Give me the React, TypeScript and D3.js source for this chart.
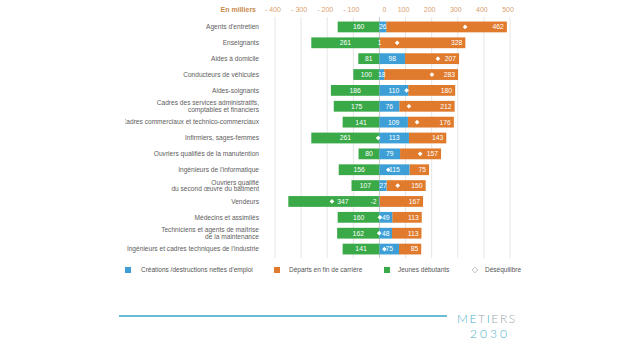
import React from "react";
import * as d3 from "d3";

const categories: string[][] = [
  ["Agents d'entretien"],
  ["Enseignants"],
  ["Aides à domicile"],
  ["Conducteurs de véhicules"],
  ["Aides-soignants"],
  ["Cadres des services administratifs,", "comptables et financiers"],
  ["Cadres commerciaux et technico-commerciaux"],
  ["Infirmiers, sages-femmes"],
  ["Ouvriers qualifiés de la manutention"],
  ["Ingénieurs de l'informatique"],
  ["Ouvriers qualifié", "du second œuvre du bâtiment"],
  ["Vendeurs"],
  ["Médecins et assimilés"],
  ["Techniciens et agents de maîtrise", "de la maintenance"],
  ["Ingénieurs et cadres techniques de l'industrie"],
];
const jeunes = [160, 261, 81, 100, 186, 175, 141, 261, 80, 156, 107, 347, 160, 162, 141];
const creations = [26, 1, 98, 18, 110, 76, 109, 113, 79, 115, 27, -2, 49, 48, 75];
const departs = [462, 328, 207, 283, 180, 212, 176, 143, 157, 75, 150, 167, 113, 113, 85];
const ticks = [-400, -300, -200, -100, 0, 100, 200, 300, 400, 500];
const legendLabels = [
  "Créations /destructions nettes d'emploi",
  "Départs en fin de carrière",
  "Jeunes débutants",
  "Déséquilibre",
];

const GREEN = "#3aa948";
const BLUE = "#3d9fd6";
const ORANGE = "#e07a2c";
const FONT = "Liberation Sans, Arial, sans-serif";

export default function App() {
  const x = d3.scaleLinear().domain([-400, 500]).range([275, 510]);
  const ids = categories.map((_, i) => String(i));
  const y = d3.scaleBand<string>().domain(ids).range([19, 257]).paddingInner(0.32).paddingOuter(0.16);
  const bw = y.bandwidth();
  const diamond = d3.symbol().type(d3.symbolSquare).size(11)() as string;
  const legendDiamond = d3.symbol().type(d3.symbolSquare).size(16)() as string;
  const x0 = x(0);

  const legendX = [128, 277, 387, 475];

  return (
    <svg width={636} height={358} style={{ position: "absolute", left: 0, top: 0, background: "#fff" }} fontFamily={FONT}>
      <defs>
        <clipPath id="lab">
          <rect x={125} y={0} width={200} height={300} />
        </clipPath>
      </defs>
      {/* grid */}
      {ticks.map((t) => (
        <line key={t} x1={x(t)} x2={x(t)} y1={17} y2={258} stroke={t === 0 ? "#c8c8c8" : "#e6e6e6"} strokeWidth={1} />
      ))}
      {/* axis labels */}
      <text x={256} y={11.5} fontSize={7} fontWeight="bold" fill="#c98a4e" textAnchor="end">En milliers</text>
      {ticks.map((t) => (
        <text key={t} x={x(t) + (t === 0 ? 5 : -2)} y={11.5} fontSize={7} fill="#d9a070" textAnchor="middle">
          {t < 0 ? `- ${Math.abs(t)}` : String(t)}
        </text>
      ))}
      {/* category labels */}
      <g clipPath="url(#lab)">
        {categories.map((lines, i) => {
          const cy = (y(ids[i]) as number) + bw / 2;
          const lh = 6.8;
          return lines.map((ln, j) => (
            <text key={i + "-" + j} x={259} y={cy + (j - (lines.length - 1) / 2) * lh + 2.3} fontSize={6.6} fill="#606060" textAnchor="end">
              {ln}
            </text>
          ));
        })}
      </g>
      {/* bars */}
      {categories.map((_, i) => {
        const top = y(ids[i]) as number;
        const cy = top + bw / 2;
        const g = jeunes[i], b = creations[i], o = departs[i];
        const bStart = Math.min(0, b), bEnd = Math.max(0, b);
        const oStart = Math.max(0, b), oEnd = oStart + o;
        const gEnd = Math.min(0, b), gStart = gEnd - g;
        const des = b + o - g;
        const dx = x(des);
        let gLab = (x(gStart) + x(gEnd)) / 2;
        if (Math.abs(dx - gLab) < 10) gLab = dx + 11;
        const bLab = b >= 0 ? (x(bStart) + x(bEnd)) / 2 : x0 - 3;
        return (
          <g key={i}>
            <rect x={x(gStart)} y={top} width={x(gEnd) - x(gStart)} height={bw} fill={GREEN} />
            <rect x={x(oStart)} y={top} width={x(oEnd) - x(oStart)} height={bw} fill={ORANGE} />
            <rect x={x(bStart)} y={top} width={x(bEnd) - x(bStart)} height={bw} fill={BLUE} />
            <text x={gLab} y={cy + 2.4} fontSize={6.8} fill="#fff" textAnchor="middle">{g}</text>
            <text x={bLab} y={cy + 2.4} fontSize={6.8} fill="#fff" textAnchor={b >= 0 ? "middle" : "end"}>{b}</text>
            <text x={x(oEnd) - 3} y={cy + 2.4} fontSize={6.8} fill="#fff" textAnchor="end">{o}</text>
            <path d={diamond} transform={`translate(${dx},${cy}) rotate(45)`} fill="#fff" />
          </g>
        );
      })}
      {/* legend */}
      <g fontSize={6.5} fill="#555">
        <rect x={legendX[0] - 3} y={267} width={6} height={6} fill={BLUE} />
        <text x={legendX[0] + 13} y={272.2}>{legendLabels[0]}</text>
        <rect x={legendX[1] - 3} y={267} width={6} height={6} fill={ORANGE} />
        <text x={legendX[1] + 12} y={272.2}>{legendLabels[1]}</text>
        <rect x={legendX[2] - 3} y={267} width={6} height={6} fill={GREEN} />
        <text x={legendX[2] + 11} y={272.2}>{legendLabels[2]}</text>
        <path d={legendDiamond} transform={`translate(${legendX[3]},270) rotate(45)`} fill="none" stroke="#aaa" strokeWidth={0.7} />
        <text x={legendX[3] + 10} y={272.2}>{legendLabels[3]}</text>
      </g>
      {/* footer */}
      <line x1={119} x2={447} y1={316} y2={316} stroke="#3aa6c9" strokeWidth={1.6} />
      <text x={457} y={323} fontSize={12} fill="#4aaec8" letterSpacing={1.6} fontFamily="Lato, sans-serif" fontWeight={300}>
        <tspan>ME</tspan><tspan fill="#9aa7ad">T</tspan><tspan>I</tspan><tspan fill="#9aa7ad">ERS</tspan>
      </text>
      <text x={470} y={338} fontSize={12} fill="#4aaec8" letterSpacing={3} fontFamily="Lato, sans-serif" fontWeight={300}>
        2030
      </text>
    </svg>
  );
}
